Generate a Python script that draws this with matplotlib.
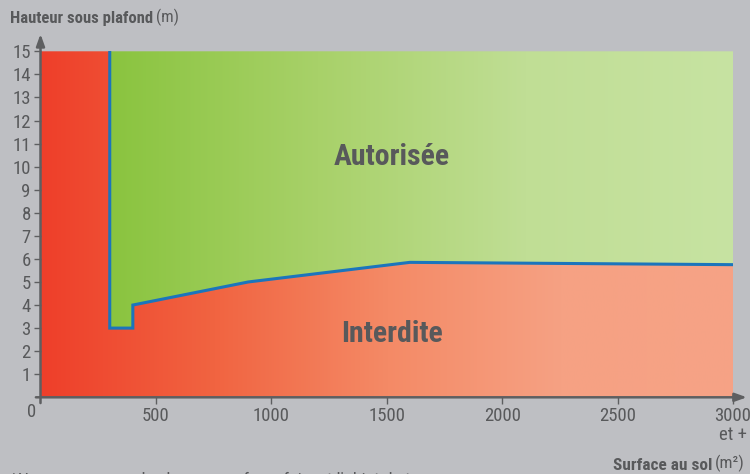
import numpy as np
import matplotlib
matplotlib.use('Agg')
import matplotlib.pyplot as plt
from matplotlib.colors import LinearSegmentedColormap
from matplotlib.patches import Polygon

plt.rcParams['font.family'] = ['Roboto Condensed', 'Liberation Sans Narrow', 'Liberation Sans', 'DejaVu Sans']

# boundary between "Autorisée" (above) and "Interdite" (below)
limit_x = [300, 300, 400, 400, 900, 1600, 3000]
limit_y = [15, 3, 3, 4, 5, 5.85, 5.75]
x_ticks = [500, 1000, 1500, 2000, 2500, 3000]
x_labels = ['500', '1000', '1500', '2000', '2500', '3000']
y_ticks = list(range(1, 16))

bg = '#BEBFC3'
txt = '#58595B'
axis_col = '#5E5F61'
line_blue = '#1B75BC'

fig = plt.figure(figsize=(7.5, 4.74), dpi=100, facecolor=bg)
ax = fig.add_axes([40.5 / 750, (474 - 397.3) / 474, 692.5 / 750, 346 / 474])
ax.set_facecolor(bg)
ax.set_xlim(0, 3000)
ax.set_ylim(0, 15)

red_cmap = LinearSegmentedColormap.from_list('r', ['#EE3F2A', '#F16441', '#F48A66', '#F6A183', '#F6A386'])
green_cmap = LinearSegmentedColormap.from_list('g', ['#8AC43F', '#A8D169', '#C0DE95', '#C7E3A2'])

grad = np.linspace(0, 1, 256).reshape(1, -1)

# red region: everything below the boundary plus the left strip
red_poly = [(0, 0), (0, 15)] + list(zip(limit_x, limit_y)) + [(3000, 0)]
im = ax.imshow(grad, cmap=red_cmap, extent=[0, 3000, 0, 15], aspect='auto', zorder=1)
p = Polygon(red_poly, closed=True, transform=ax.transData, facecolor='none', edgecolor='none')
ax.add_patch(p)
im.set_clip_path(p)

# green region: above the boundary
green_poly = list(zip(limit_x, limit_y)) + [(3000, 15)]
im2 = ax.imshow(grad, cmap=green_cmap, extent=[300, 3000, 0, 15], aspect='auto', zorder=1)
p2 = Polygon(green_poly, closed=True, transform=ax.transData, facecolor='none', edgecolor='none')
ax.add_patch(p2)
im2.set_clip_path(p2)

ax.plot(limit_x, limit_y, color=line_blue, lw=2.2, zorder=3, solid_joinstyle='miter')

ax.text(1523, 10.4, 'Autorisée', ha='center', va='center', fontsize=21.5, fontweight='bold', color=txt)
ax.text(1523, 2.75, 'Interdite', ha='center', va='center', fontsize=21.5, fontweight='bold', color=txt)

# axes with arrows
for s in ax.spines.values():
    s.set_visible(False)
ax.annotate('', xy=(3060, 0), xytext=(-20, 0), annotation_clip=False,
            arrowprops=dict(arrowstyle='-|>,head_length=0.7,head_width=0.25', color=axis_col, lw=1.8, shrinkA=0, shrinkB=0))
ax.annotate('', xy=(0, 15.75), xytext=(0, -0.25), annotation_clip=False,
            arrowprops=dict(arrowstyle='-|>,head_length=0.7,head_width=0.25', color=axis_col, lw=1.8, shrinkA=0, shrinkB=0))

ax.set_yticks(y_ticks)
ax.set_yticklabels([str(v) for v in y_ticks])
ax.set_xticks(x_ticks)
ax.set_xticklabels(x_labels)
ax.tick_params(axis='both', colors=axis_col, labelcolor=txt, labelsize=13.5, length=5, width=1)
ax.tick_params(axis='x', pad=2)
ax.tick_params(axis='y', pad=2)
ax.text(-40, -0.65, '0', ha='center', va='center', fontsize=13.5, color=txt)
ax.text(3000, -1.62, 'et +', ha='center', va='center', fontsize=13.5, color=txt)

# axis titles
t1 = fig.text(10 / 750, 1 - 19 / 474, 'Hauteur sous plafond', ha='left', va='center',
              fontsize=12, fontweight='bold', color=txt)
ax.annotate('(m)', xy=(1, 0), xycoords=t1, xytext=(2, 0), textcoords='offset points',
            fontsize=12, color=txt, va='bottom', annotation_clip=False)

t2 = fig.text(712 / 750, 1 - 465 / 474, 'Surface au sol', ha='right', va='center',
              fontsize=12.4, fontweight='bold', color=txt)
ax.annotate('(m²)', xy=(1, 0), xycoords=t2, xytext=(2, 0), textcoords='offset points',
            fontsize=12.4, color=txt, va='bottom', annotation_clip=False)

fig.text(10 / 750, -7 / 474, '*Ne concerne que les locaux neufs ou faisant l\'objet de travaux',
         ha='left', va='center', fontsize=13, color=txt)

fig.savefig('out.png', dpi=100, facecolor=bg)
